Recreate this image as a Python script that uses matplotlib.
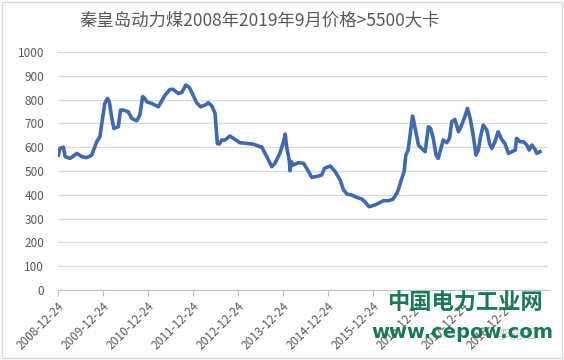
import numpy as np
import matplotlib
matplotlib.use("Agg")
import matplotlib.pyplot as plt
from matplotlib.patches import Rectangle

plt.rcParams['font.family'] = ['Noto Sans CJK SC', 'DejaVu Sans']

# price series, x in decimal years, y in yuan/t
years = [2008.99, 2009.02, 2009.10, 2009.14, 2009.25, 2009.40, 2009.51, 2009.62,
         2009.73, 2009.84, 2009.91, 2009.97, 2010.02, 2010.08, 2010.12, 2010.17,
         2010.22, 2010.32, 2010.37, 2010.43, 2010.54, 2010.62, 2010.73, 2010.80,
         2010.86, 2010.91, 2010.95, 2011.06, 2011.21, 2011.36, 2011.47, 2011.54,
         2011.65, 2011.73, 2011.82, 2011.90, 2011.99, 2012.06, 2012.15, 2012.25,
         2012.32, 2012.40, 2012.47, 2012.52, 2012.56, 2012.62, 2012.69, 2012.80,
         2012.91, 2013.02, 2013.17, 2013.32, 2013.43, 2013.51, 2013.62, 2013.73,
         2013.80, 2013.91, 2013.99, 2014.03, 2014.06, 2014.12, 2014.14, 2014.16,
         2014.21, 2014.32, 2014.44, 2014.55, 2014.62, 2014.77, 2014.84, 2014.90,
         2015.03, 2015.14, 2015.25, 2015.32, 2015.40, 2015.51, 2015.62, 2015.73,
         2015.80, 2015.89, 2016.02, 2016.10, 2016.21, 2016.32, 2016.42, 2016.51,
         2016.54, 2016.62, 2016.67, 2016.71, 2016.76, 2016.82, 2016.86, 2016.91,
         2016.99, 2017.06, 2017.14, 2017.21, 2017.26, 2017.32, 2017.38, 2017.43,
         2017.48, 2017.54, 2017.62, 2017.68, 2017.73, 2017.80, 2017.88, 2017.95,
         2018.02, 2018.08, 2018.14, 2018.20, 2018.27, 2018.32, 2018.37, 2018.43,
         2018.51, 2018.57, 2018.62, 2018.69, 2018.76, 2018.84, 2018.91, 2018.99,
         2019.06, 2019.14, 2019.17, 2019.25, 2019.32, 2019.40, 2019.45, 2019.51,
         2019.58, 2019.62, 2019.69]
prices = [567, 595, 600, 560, 553, 574, 560, 556,
          567, 623, 644, 721, 784, 805, 791, 728,
          679, 686, 756, 756, 749, 721, 711, 735,
          813, 805, 791, 784, 770, 819, 843, 843,
          826, 830, 861, 851, 815, 787, 770, 777,
          787, 773, 742, 616, 613, 630, 630, 647,
          633, 619, 616, 613, 605, 600, 560, 518,
          532, 574, 623, 655, 602, 543, 501, 540,
          525, 535, 532, 497, 473, 479, 483, 511,
          521, 497, 462, 423, 403, 399, 389, 382,
          371, 350, 357, 364, 375, 375, 381, 406,
          420, 469, 497, 567, 588, 672, 731, 686,
          609, 595, 581, 686, 679, 637, 567, 553,
          588, 630, 619, 637, 707, 717, 665, 693,
          728, 763, 721, 658, 567, 588, 644, 693,
          672, 616, 595, 623, 665, 633, 616, 574,
          581, 588, 637, 623, 623, 609, 588, 609,
          591, 574, 581]

tick_labels = ["2008-12-24", "2009-12-24", "2010-12-24", "2011-12-24",
               "2012-12-24", "2013-12-24", "2014-12-24", "2015-12-24",
               "2016-12-24", "2017-12-24", "2018-12-24"]
tick_pos = [2008.98 + i for i in range(len(tick_labels))]

title = "秦皇岛动力煤2008年2019年9月价格>5500大卡"
grey = "#595959"

fig = plt.figure(figsize=(5.64, 3.6), dpi=100)
ax = fig.add_axes([58 / 564, 1 - 290 / 360, 490 / 564, 238 / 360])

ax.plot(years, prices, color="#4169b0", lw=2.6, solid_joinstyle="round")

ax.set_xlim(2008.98, 2008.98 + 490 / 45)
ax.set_ylim(0, 1000)
ax.set_yticks(range(0, 1001, 100))
ax.yaxis.grid(True, color="#d9d9d9", lw=0.9)
ax.set_axisbelow(True)
ax.tick_params(axis="y", length=0, pad=10, labelsize=8.5, labelcolor=grey)
ax.set_xticks(tick_pos)
ax.set_xticklabels(tick_labels, rotation=45, ha="right", rotation_mode="anchor")
ax.tick_params(axis="x", length=4, color="#bfbfbf", labelsize=8.5,
               labelcolor=grey, pad=3)
for s in ["top", "right", "left"]:
    ax.spines[s].set_visible(False)
ax.spines["bottom"].set_color("#bfbfbf")

fig.text(260 / 564, 1 - 20 / 360, title, ha="center", va="center",
         fontsize=12.5, color=grey)

# watermark
fig.text(465 / 564, 1 - 303 / 360, "中国电力工业网", ha="center", va="center",
         fontsize=16, fontweight="bold", color="#17795a")
fig.text(516 / 564, 1 - 335 / 360, "李能汇", ha="center", va="center",
         fontsize=9.5, color="#c8c8c8")
fig.text(462 / 564, 1 - 332 / 360, "www.cepow.com", ha="center", va="center",
         fontsize=14, fontweight="bold", color="#17795a", family="DejaVu Sans")

fig.patches.append(Rectangle((2 / 564, 2 / 360), 560 / 564, 356 / 360,
                             transform=fig.transFigure, fill=False,
                             edgecolor="#d9d9d9", lw=1))

fig.savefig("out.png", dpi=100)
